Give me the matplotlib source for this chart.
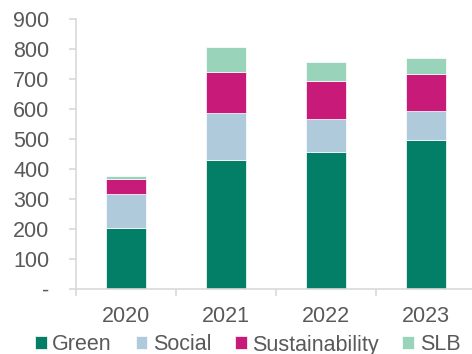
import matplotlib
matplotlib.use("Agg")
import matplotlib.pyplot as plt
import numpy as np

plt.rcParams['font.family'] = ['Liberation Sans', 'DejaVu Sans']

years = ["2020", "2021", "2022", "2023"]
series_names = ["Green", "Social", "Sustainability", "SLB"]
green = [203, 431, 458, 497]
social = [115, 157, 108, 97]
sustainability = [50, 136, 126, 123]
slb = [9, 82, 65, 54]
colors = ["#047F67", "#AECADB", "#C81A78", "#99D3BA"]
yticks = [0, 100, 200, 300, 400, 500, 600, 700, 800, 900]
ytick_labels = ["-", "100", "200", "300", "400", "500", "600", "700", "800", "900"]

fig = plt.figure(figsize=(4.72, 3.54), dpi=100)
ax = fig.add_axes([76/472, 1-289/354, 400/472, 270/354])

x = np.arange(len(years))
bottom = np.zeros(len(years))
for name, vals, c in zip(series_names, [green, social, sustainability, slb], colors):
    ax.bar(x, vals, 0.4, bottom=bottom, color=c, label=name, edgecolor="white", linewidth=0.5)
    bottom += np.array(vals)

ax.set_xlim(-0.5, 3.5)
ax.set_ylim(0, 900)
ax.set_yticks(yticks)
ax.set_yticklabels(ytick_labels)
ax.set_xticks(x)
ax.set_xticklabels(years)
ax.set_xticks(np.arange(-0.5, 4.0, 1.0), minor=True)

gray = "#D9D9D9"
txt = "#595959"
for s in ["top", "right"]:
    ax.spines[s].set_visible(False)
ax.spines["left"].set_color(gray)
ax.spines["bottom"].set_color(gray)
ax.spines["left"].set_linewidth(1.2)
ax.spines["bottom"].set_linewidth(1.2)
ax.tick_params(axis="y", colors=gray, labelcolor=txt, labelsize=15.5, length=5, width=1.2, pad=14)
ax.tick_params(axis="x", which="major", length=0, labelcolor=txt, labelsize=15.5, pad=12)
ax.tick_params(axis="x", which="minor", length=5, width=1.2, colors=gray)

fig.legend(loc="center left", bbox_to_anchor=(35/472, 1-345/354), ncol=4, frameon=False,
           fontsize=15.5, handlelength=0.55, handleheight=0.55, handletextpad=0.25,
           columnspacing=1.1, labelcolor=txt, borderaxespad=0.0, borderpad=0.0)

fig.savefig("out.png", dpi=100)
